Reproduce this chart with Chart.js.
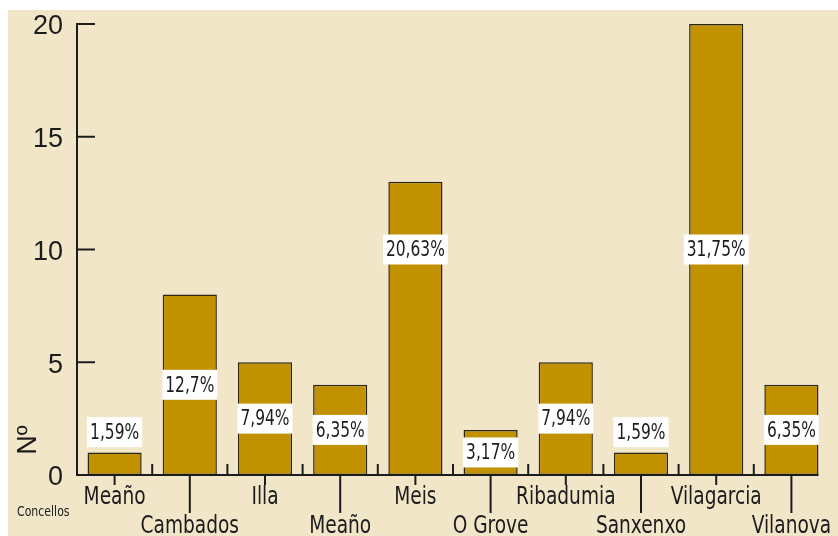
<!DOCTYPE html>
<html>
<head>
<meta charset="utf-8">
<script src="https://cdn.jsdelivr.net/npm/chart.js@4.4.1/dist/chart.umd.min.js"></script>
<style>
  html, body { margin: 0; padding: 0; background: #fff; }
  #wrap { width: 838px; height: 536px; }
</style>
</head>
<body>
<div id="wrap"><canvas id="chart" width="838" height="536"></canvas></div>
<script>
// values
const concellos = ['Meaño', 'Cambados', 'Illa', 'Meaño', 'Meis', 'O Grove', 'Ribadumia', 'Sanxenxo', 'Vilagarcia', 'Vilanova'];
const counts = [1, 8, 5, 4, 13, 2, 5, 1, 20, 4];
const pctLabels = ['1,59%', '12,7%', '7,94%', '6,35%', '20,63%', '3,17%', '7,94%', '1,59%', '31,75%', '6,35%'];
const yTicks = [0, 5, 10, 15, 20];

const narrow = "'Liberation Sans Narrow', 'DejaVu Sans Condensed', sans-serif";
const ink = '#1c1c1c';

// squeeze text horizontally to mimic the condensed face of the original
function narrowText(ctx, text, x, y, squeeze) {
  ctx.save();
  ctx.translate(x, y);
  ctx.scale(squeeze, 1);
  ctx.fillText(text, 0, 0);
  ctx.restore();
}

// background panel, axis marks, staggered labels, percentage boxes
const decor = {
  id: 'decor',
  beforeDraw(chart) {
    const ctx = chart.ctx;
    ctx.save();
    ctx.fillStyle = '#ffffff';
    ctx.fillRect(0, 0, chart.width, chart.height);
    ctx.fillStyle = '#f2e6c9';
    ctx.fillRect(8, 10, chart.width - 8, chart.height - 10);
    ctx.restore();
  },
  afterDatasetsDraw(chart) {
    const ctx = chart.ctx;
    const x = chart.scales.x;
    const y = chart.scales.y;
    const base = y.getPixelForValue(0);
    ctx.save();
    ctx.strokeStyle = ink;
    ctx.lineWidth = 2;

    // x axis line
    const meta = chart.getDatasetMeta(0);
    const lastBar = meta.data[meta.data.length - 1];
    ctx.beginPath();
    ctx.moveTo(x.left, base);
    ctx.lineTo(lastBar.x + lastBar.width / 2, base);
    ctx.stroke();

    // inward y ticks
    yTicks.forEach(v => {
      if (v === 0) return;
      const py = y.getPixelForValue(v);
      ctx.beginPath();
      ctx.moveTo(x.left, py);
      ctx.lineTo(x.left + 18, py);
      ctx.stroke();
    });

    // short ticks between categories
    for (let i = 0; i < concellos.length - 1; i++) {
      const px = (x.getPixelForValue(i) + x.getPixelForValue(i + 1)) / 2;
      ctx.beginPath();
      ctx.moveTo(px, base);
      ctx.lineTo(px, base - 11);
      ctx.stroke();
    }

    // category labels, alternating rows
    ctx.font = '24px ' + narrow;
    ctx.fillStyle = ink;
    ctx.textAlign = 'center';
    ctx.textBaseline = 'alphabetic';
    concellos.forEach((name, i) => {
      const px = x.getPixelForValue(i);
      const low = i % 2 === 1;
      ctx.beginPath();
      ctx.moveTo(px, base);
      ctx.lineTo(px, base + (low ? 38 : 10));
      ctx.stroke();
      narrowText(ctx, name, px, low ? 533 : 504, 0.86);
    });

    // percentage boxes
    ctx.font = '22px ' + narrow;
    ctx.textBaseline = 'middle';
    meta.data.forEach((bar, i) => {
      const v = counts[i];
      const level = v > 10 ? 10 : (v <= 1 ? v + 0.9 : v / 2);
      const cy = y.getPixelForValue(level);
      const tw = ctx.measureText(pctLabels[i]).width * 0.78;
      const w = Math.max(bar.width, tw + 6);
      ctx.fillStyle = '#ffffff';
      ctx.fillRect(bar.x - w / 2, cy - 15, w, 30);
      ctx.fillStyle = ink;
      narrowText(ctx, pctLabels[i], bar.x, cy + 1, 0.78);
    });

    // axis titles
    ctx.font = '14px ' + narrow;
    ctx.textAlign = 'left';
    ctx.textBaseline = 'alphabetic';
    narrowText(ctx, 'Concellos', 17, 516, 0.87);
    ctx.translate(29, 440);
    ctx.rotate(-Math.PI / 2);
    ctx.font = '27px Arial, "Liberation Sans", sans-serif';
    ctx.textAlign = 'center';
    ctx.textBaseline = 'middle';
    ctx.fillText('Nº', 0, 0);
    ctx.restore();
  }
};

new Chart(document.getElementById('chart'), {
  type: 'bar',
  data: {
    labels: concellos,
    datasets: [{
      data: counts,
      backgroundColor: '#c29100',
      borderColor: '#2a2614',
      borderWidth: 1.5,
      borderSkipped: false,
      barPercentage: 0.72,
      categoryPercentage: 1
    }]
  },
  options: {
    responsive: false,
    animation: false,
    layout: { autoPadding: false, padding: { top: 24, right: 9, left: 0, bottom: 0 } },
    plugins: { legend: { display: false }, tooltip: { enabled: false } },
    scales: {
      x: {
        ticks: { display: false },
        grid: { display: false, drawTicks: false },
        border: { display: false },
        afterFit(scale) { scale.height = 61; scale.paddingLeft = 0; scale.paddingRight = 0; }
      },
      y: {
        min: 0,
        max: 20,
        afterBuildTicks(scale) { scale.ticks = yTicks.map(v => ({ value: v })); },
        ticks: {
          color: ink,
          padding: 14,
          labelOffset: 3,
          font: { family: 'Arial, "Liberation Sans", sans-serif', size: 27 }
        },
        grid: { display: false, drawTicks: false },
        border: { display: true, color: ink, width: 2 },
        afterFit(scale) { scale.width = 77; scale.paddingTop = 0; scale.paddingBottom = 0; }
      }
    }
  },
  plugins: [decor]
});
</script>
</body>
</html>
